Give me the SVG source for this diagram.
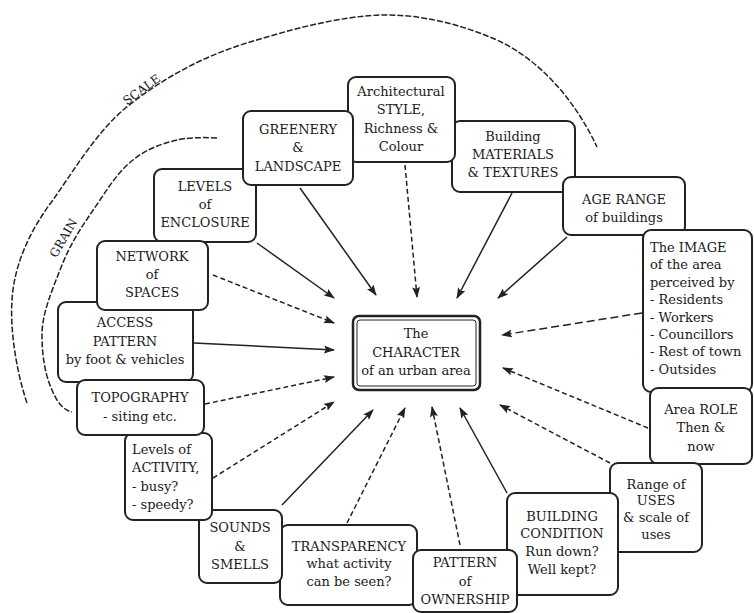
<svg xmlns="http://www.w3.org/2000/svg" width="754" height="613" viewBox="0 0 754 613">
<style>
.box{fill:#fff;stroke:#222;stroke-width:2}
.t{font-family:"DejaVu Serif","Liberation Serif",serif;font-size:13px;fill:#1a1a1a;text-anchor:middle}
.tl{font-family:"DejaVu Serif","Liberation Serif",serif;font-size:13px;fill:#1a1a1a;text-anchor:start}
.lab{font-family:"DejaVu Serif","Liberation Serif",serif;font-size:12px;fill:#1a1a1a;text-anchor:middle}
.arc{fill:none;stroke:#222;stroke-width:1.5;stroke-dasharray:6 2}
.c{stroke:#222;stroke-width:1.5;fill:none;marker-end:url(#ah)}
.d{stroke-dasharray:5 3}
</style>
<defs>
<marker id="ah" markerUnits="userSpaceOnUse" markerWidth="11" markerHeight="8" refX="10" refY="4" orient="auto">
<path d="M0,0 L11,4 L0,8 L2,4 z" fill="#222"/>
</marker>
</defs>
<rect width="754" height="613" fill="#fff"/>
<g id="arcs">
<path class="arc" d="M27,403 C16,370 10,330 12,300 C14,265 30,230 53,200 C74,170 95,135 123,110 C160,80 200,57 250,42 C290,30 335,17 380,15 C420,14 460,24 497,40 C540,60 575,100 597,147"/>
<path class="arc" d="M217,138 C200,137 185,138 177,140 C160,144 145,150 133,160 C120,170 110,185 100,200 C85,222 72,240 62,265 C50,295 42,315 42,335 C42,355 45,375 52,390 C57,402 63,410 72,412"/>
<text class="lab" transform="translate(144,93) rotate(-36)">SCALE</text>
<text class="lab" transform="translate(67,240) rotate(-60)">GRAIN</text>
</g>
<g id="connectors">
<line class="c" x1="300" y1="188" x2="376" y2="295"/>
<line class="c" x1="257" y1="243" x2="334" y2="298"/>
<line class="c d" x1="213" y1="275" x2="334" y2="323"/>
<line class="c" x1="194" y1="343" x2="334" y2="350"/>
<line class="c d" x1="205" y1="404" x2="334" y2="377"/>
<line class="c d" x1="213" y1="478" x2="334" y2="402"/>
<line class="c" x1="282" y1="505" x2="373" y2="410"/>
<line class="c d" x1="347" y1="523" x2="405" y2="408"/>
<line class="c d" x1="460" y1="545" x2="432" y2="407"/>
<line class="c" x1="507" y1="493" x2="460" y2="408"/>
<line class="c d" x1="610" y1="463" x2="500" y2="405"/>
<line class="c d" x1="648" y1="428" x2="503" y2="368"/>
<line class="c d" x1="642" y1="313" x2="502" y2="335" style="stroke-dasharray:8 4"/>
<line class="c" x1="567" y1="237" x2="498" y2="298"/>
<line class="c" x1="512" y1="193" x2="457" y2="298"/>
<line class="c d" x1="405" y1="165" x2="417" y2="297"/>
</g>
<g id="materials"><rect class="box" x="452" y="121" width="123" height="71" rx="8"/>
<text class="t" x="513" y="141">Building</text><text class="t" x="513" y="159">MATERIALS</text><text class="t" x="513" y="177">&amp; TEXTURES</text></g>
<g id="architectural"><rect class="box" x="348" y="77" width="107" height="85" rx="8"/>
<text class="t" x="401" y="96">Architectural</text><text class="t" x="401" y="114">STYLE,</text><text class="t" x="401" y="133">Richness &amp;</text><text class="t" x="401" y="151">Colour</text></g>
<g id="enclosure"><rect class="box" x="154" y="169" width="102" height="73" rx="8"/>
<text class="t" x="205" y="191">LEVELS</text><text class="t" x="205" y="209">of</text><text class="t" x="205" y="227">ENCLOSURE</text></g>
<g id="greenery"><rect class="box" x="243" y="111" width="110" height="74" rx="8"/>
<text class="t" x="298" y="134">GREENERY</text><text class="t" x="298" y="152">&amp;</text><text class="t" x="298" y="171">LANDSCAPE</text></g>
<g id="age"><rect class="box" x="563" y="177" width="122" height="58" rx="8"/>
<text class="t" x="624" y="204">AGE RANGE</text><text class="t" x="624" y="222">of buildings</text></g>
<g id="image"><rect class="box" x="643" y="230" width="109" height="162" rx="8"/>
<text class="tl" x="650" y="252">The IMAGE</text><text class="tl" x="650" y="269">of the area</text><text class="tl" x="650" y="287">perceived by</text><text class="tl" x="650" y="304">- Residents</text><text class="tl" x="650" y="322">- Workers</text><text class="tl" x="650" y="339">- Councillors</text><text class="tl" x="650" y="356">- Rest of town</text><text class="tl" x="650" y="374">- Outsides</text></g>
<g id="role"><rect class="box" x="650" y="388" width="102" height="76" rx="8"/>
<text class="t" x="701" y="414">Area ROLE</text><text class="t" x="701" y="432">Then &amp;</text><text class="t" x="701" y="451">now</text></g>
<g id="uses"><rect class="box" x="610" y="463" width="92" height="89" rx="8"/>
<text class="t" x="656" y="489">Range of</text><text class="t" x="656" y="505">USES</text><text class="t" x="656" y="522">&amp; scale of</text><text class="t" x="656" y="539">uses</text></g>
<g id="building"><rect class="box" x="507" y="493" width="111" height="102" rx="8"/>
<text class="t" x="562" y="521">BUILDING</text><text class="t" x="562" y="538">CONDITION</text><text class="t" x="562" y="556">Run down?</text><text class="t" x="562" y="574">Well kept?</text></g>
<g id="transparency"><rect class="box" x="280" y="525" width="137" height="80" rx="8"/>
<text class="t" x="349" y="551">TRANSPARENCY</text><text class="t" x="349" y="568">what activity</text><text class="t" x="349" y="586">can be seen?</text></g>
<g id="pattern"><rect class="box" x="413" y="550" width="104" height="62" rx="8"/>
<text class="t" x="465" y="567">PATTERN</text><text class="t" x="465" y="586">of</text><text class="t" x="465" y="604">OWNERSHIP</text></g>
<g id="sounds"><rect class="box" x="199" y="510" width="83" height="73" rx="8"/>
<text class="t" x="240" y="532">SOUNDS</text><text class="t" x="240" y="551">&amp;</text><text class="t" x="240" y="569">SMELLS</text></g>
<g id="activity"><rect class="box" x="125" y="433" width="87" height="87" rx="8"/>
<text class="tl" x="132" y="454">Levels of</text><text class="tl" x="132" y="472">ACTIVITY,</text><text class="tl" x="132" y="491">- busy?</text><text class="tl" x="132" y="509">- speedy?</text></g>
<g id="access"><rect class="box" x="58" y="302" width="135" height="80" rx="8"/>
<text class="t" x="125" y="327">ACCESS</text><text class="t" x="125" y="346">PATTERN</text><text class="t" x="125" y="364">by foot &amp; vehicles</text></g>
<g id="network"><rect class="box" x="97" y="241" width="111" height="69" rx="8"/>
<text class="t" x="152" y="261">NETWORK</text><text class="t" x="152" y="279">of</text><text class="t" x="152" y="297">SPACES</text></g>
<g id="topography"><rect class="box" x="77" y="380" width="127" height="55" rx="8"/>
<text class="t" x="140" y="402">TOPOGRAPHY</text><text class="t" x="140" y="421">- siting etc.</text></g>
<g id="character"><rect class="box" x="353" y="316" width="127" height="74" rx="6" style="stroke-width:2.5"/>
<rect x="357" y="320" width="119" height="66" rx="3" fill="none" stroke="#222" stroke-width="1"/>
<text class="t" x="416" y="338">The</text><text class="t" x="416" y="357">CHARACTER</text><text class="t" x="416" y="375">of an urban area</text></g>
</svg>
